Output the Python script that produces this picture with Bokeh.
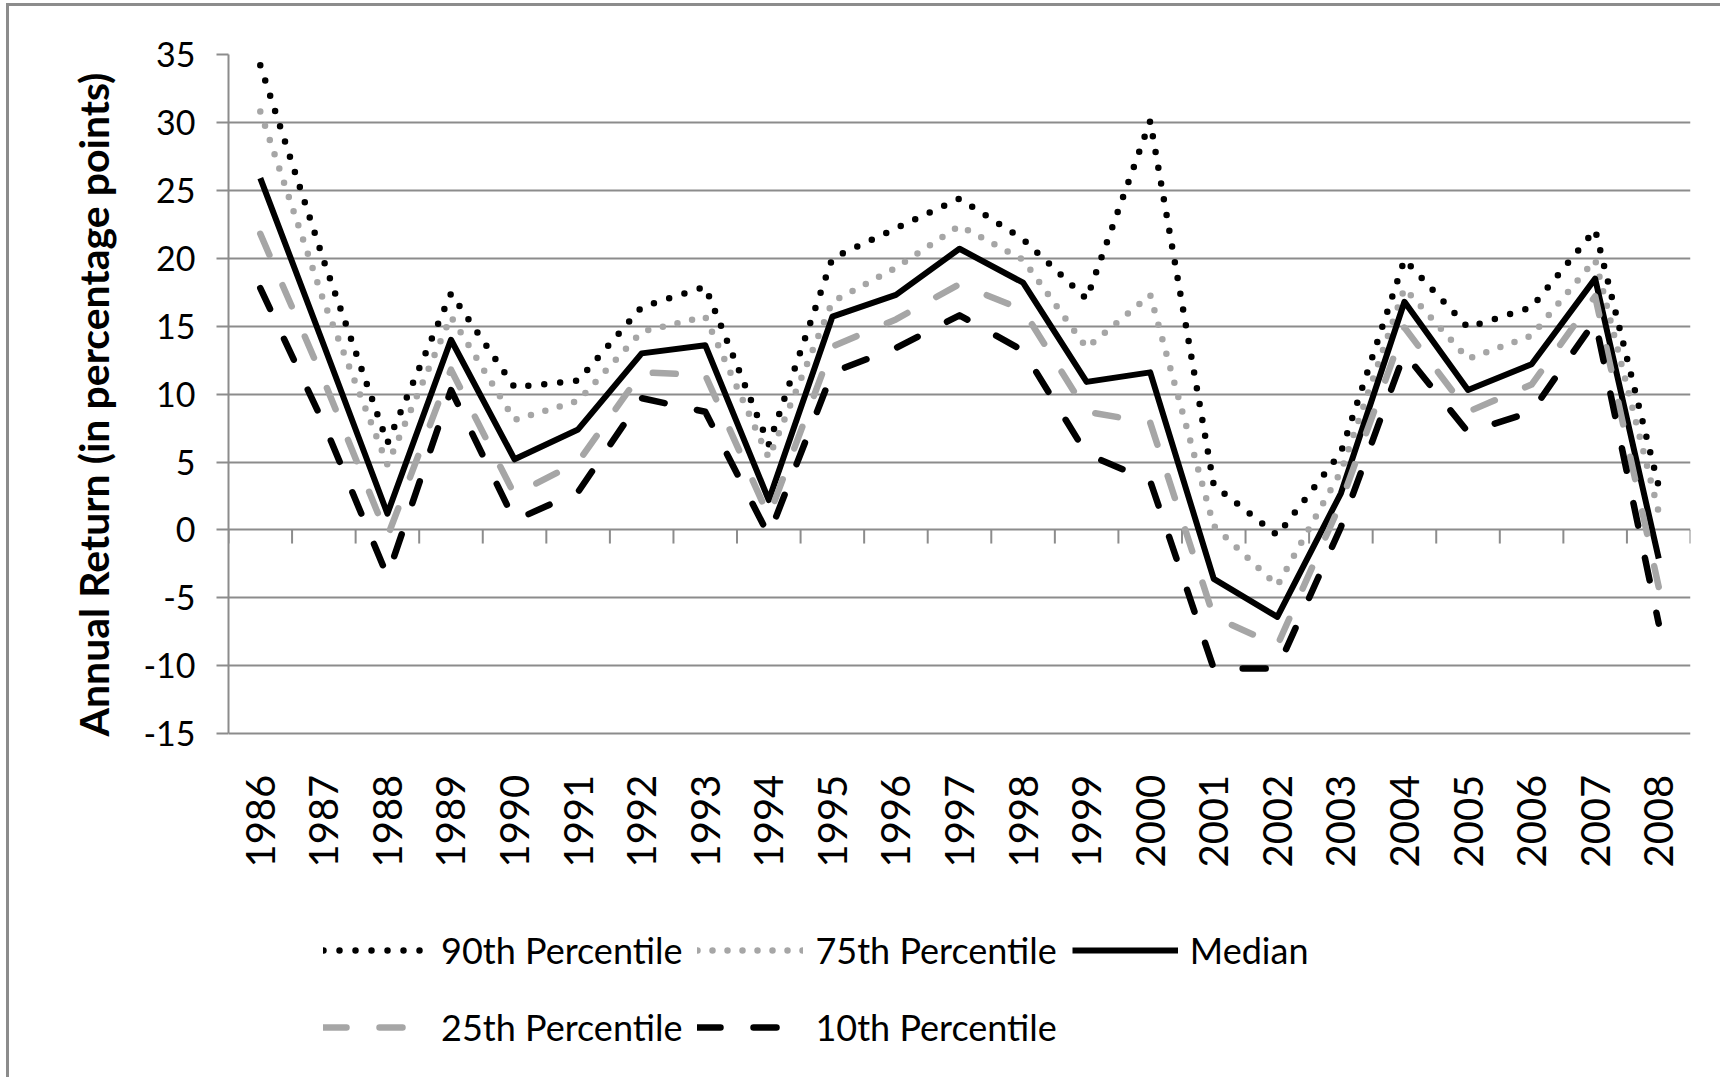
import math
from bokeh.plotting import figure
from bokeh.models import (Range1d, FactorRange, FixedTicker, Legend,
                          LegendItem, ColumnDataSource, Title)
from bokeh.transform import dodge
from bokeh.embed import file_html
from bokeh.resources import INLINE

# ---------------- data ----------------
years = [str(y) for y in range(1986, 2009)]
p90 = [34.2, 19.8, 6.4, 17.4, 10.5, 11.0, 16.4, 17.9, 6.3, 20.0, 22.2, 24.4,
       21.4, 17.0, 30.1, 3.3, -0.4, 5.7, 19.9, 14.9, 16.4, 22.1, 3.2]
p75 = [30.8, 16.8, 4.8, 15.7, 8.1, 9.5, 14.6, 15.7, 5.3, 16.8, 19.3, 22.4,
       19.9, 13.4, 17.3, 0.3, -4.1, 4.3, 17.8, 12.6, 14.3, 19.9, 1.3]
median = [25.9, 13.6, 1.2, 14.0, 5.2, 7.4, 13.0, 13.6, 2.2, 15.7, 17.3, 20.7,
          18.2, 10.9, 11.6, -3.6, -6.4, 2.7, 16.8, 10.3, 12.2, 18.5, -2.1]
p25 = [21.8, 11.0, -0.5, 11.8, 2.6, 5.0, 11.6, 11.4, 1.0, 13.5, 15.5, 18.1,
       16.2, 8.7, 7.9, -6.4, -8.5, 2.0, 14.9, 8.7, 10.7, 17.2, -4.2]
p10 = [17.8, 7.8, -3.4, 10.3, 0.7, 2.8, 9.7, 8.7, -0.4, 11.6, 13.4, 15.8,
       13.2, 5.6, 3.6, -10.2, -10.2, 0.2, 13.0, 7.2, 8.7, 15.4, -6.9]
y_ticks = [-15, -10, -5, 0, 5, 10, 15, 20, 25, 30, 35]
series_names = ["90th Percentile", "75th Percentile", "Median",
                "25th Percentile", "10th Percentile"]
y_title = "Annual Return (in percentage points)"

# ---------------- styles / layout ----------------
GRID = "#8c8c8c"
LGRAY = "#a6a6a6"
FONT = "Lato"
Y_MIN, Y_MAX = -15, 35        # value axis extent
Y_FRAME_BOTTOM = -40.16       # frame continues below the axis to host labels + legend
TICK_LEN = 1.0                # category tick length below zero line (value units)

p = figure(width=1714, height=1074,
           x_range=FactorRange(factors=years), y_range=Range1d(Y_FRAME_BOTTOM, Y_MAX),
           output_backend="svg", toolbar_location=None,
           min_border_left=219, min_border_right=33,
           min_border_top=48, min_border_bottom=5)
p.outline_line_color = None
p.background_fill_color = "white"
p.border_fill_color = "white"
p.styles = {"border-left": "3px solid #8c8c8c", "border-top": "3px solid #8c8c8c",
            "margin-left": "6px", "margin-top": "3px"}

# y axis
p.yaxis.ticker = FixedTicker(ticks=y_ticks)
p.yaxis.bounds = (Y_MIN, Y_MAX)
p.yaxis.major_label_overrides = {t: str(t) for t in y_ticks}
p.yaxis.major_tick_out = 12
p.yaxis.major_tick_in = 0
p.yaxis.minor_tick_line_color = None
p.yaxis.axis_line_color = GRID
p.yaxis.axis_line_width = 2
p.yaxis.major_tick_line_color = GRID
p.yaxis.major_tick_line_width = 2
p.yaxis.major_label_text_font = FONT
p.yaxis.major_label_text_font_size = "34px"
p.yaxis.major_label_text_color = "#000000"
p.yaxis.major_label_standoff = 21

p.add_layout(Title(text=y_title, align="left", offset=339, standoff=45,
                   text_font=FONT, text_font_style="bold", text_font_size="41px",
                   text_color="#000000"), "left")

p.ygrid.ticker = FixedTicker(ticks=y_ticks)
p.ygrid.grid_line_color = GRID
p.ygrid.grid_line_width = 2
p.xgrid.grid_line_color = None

# category label axis, drawn just under the -15 line
p.xaxis.fixed_location = Y_MIN
p.xaxis.axis_line_color = None
p.xaxis.major_tick_line_color = None
p.xaxis.major_tick_out = 0
p.xaxis.major_tick_in = 0
p.xaxis.major_label_orientation = math.pi / 2
p.xaxis.major_label_standoff = 41
p.xaxis.major_label_text_font = FONT
p.xaxis.major_label_text_font_size = "40px"
p.xaxis.major_label_text_color = "#000000"

# category tick marks on the zero line, at the boundaries between years
tick_src = ColumnDataSource(dict(year=years))
p.segment(x0=dodge("year", -0.5, range=p.x_range), x1=dodge("year", -0.5, range=p.x_range),
          y0=0, y1=-TICK_LEN, source=tick_src, line_color=GRID, line_width=2)
end_src = ColumnDataSource(dict(year=years[-1:]))
p.segment(x0=dodge("year", 0.5, range=p.x_range), x1=dodge("year", 0.5, range=p.x_range),
          y0=0, y1=-TICK_LEN, source=end_src, line_color=GRID, line_width=2)

# ---------------- lines ----------------
r90 = p.line(years, p90, line_color="black", line_width=6.5, line_dash="0 16",
             line_cap="round", line_join="round")
r75 = p.line(years, p75, line_color=LGRAY, line_width=6.5, line_dash="0 15",
             line_cap="round", line_join="round")
rmed = p.line(years, median, line_color="black", line_width=6,
              line_cap="butt", line_join="round")
r25 = p.line(years, p25, line_color=LGRAY, line_width=6.5, line_dash="23 33",
             line_cap="round", line_join="round")
r10 = p.line(years, p10, line_color="black", line_width=6.5, line_dash="23 33",
             line_cap="round", line_join="round")

legend = Legend(items=[LegendItem(label=n, renderers=[r])
                       for n, r in zip(series_names, [r90, r75, rmed, r25, r10])],
                location=(95, 17), orientation="horizontal", ncols=3,
                glyph_width=106, glyph_height=62, label_height=62,
                label_standoff=12, spacing=15, padding=0, margin=0,
                border_line_color=None, background_fill_alpha=0,
                label_text_font=FONT, label_text_font_size="36px",
                label_text_color="#000000", label_text_baseline="middle")
p.add_layout(legend, "center")

open("out.html", "w").write(file_html(p, INLINE))
